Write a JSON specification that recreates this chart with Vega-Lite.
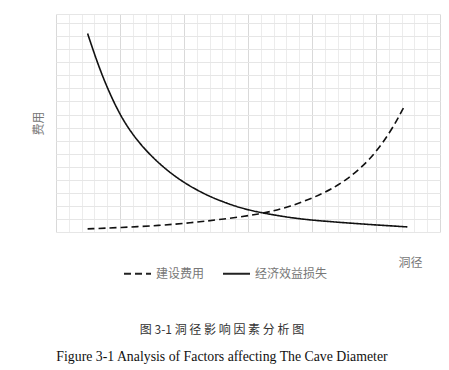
{
  "$schema": "https://vega.github.io/schema/vega-lite/v6.json",
  "width": 384,
  "height": 218,
  "autosize": {"type": "none"},
  "padding": {"left": 56, "top": 14, "right": 9, "bottom": 138},
  "background": "white",
  "config": {"view": {"stroke": null}},
  "title": {
    "text": "图 3-1  洞 径 影 响 因 素 分 析 图",
    "subtitle": "Figure 3-1 Analysis of Factors affecting The Cave Diameter",
    "orient": "bottom",
    "anchor": "middle",
    "frame": "group",
    "dx": -26,
    "offset": 45,
    "font": "Noto Sans CJK SC",
    "fontSize": 12,
    "fontWeight": "normal",
    "color": "#333",
    "subtitleFont": "Liberation Serif",
    "subtitleFontSize": 13.8,
    "subtitleColor": "#111",
    "subtitlePadding": 13
  },
  "data": {
    "values": [
      {"x": 2.47, "y": 15.2, "series": "经济效益损失"},
      {"x": 3.2, "y": 13.05, "series": "经济效益损失"},
      {"x": 4, "y": 11.03, "series": "经济效益损失"},
      {"x": 5, "y": 8.95, "series": "经济效益损失"},
      {"x": 6, "y": 7.44, "series": "经济效益损失"},
      {"x": 7, "y": 6.27, "series": "经济效益损失"},
      {"x": 8, "y": 5.3, "series": "经济效益损失"},
      {"x": 9, "y": 4.48, "series": "经济效益损失"},
      {"x": 10, "y": 3.79, "series": "经济效益损失"},
      {"x": 11, "y": 3.22, "series": "经济效益损失"},
      {"x": 12, "y": 2.73, "series": "经济效益损失"},
      {"x": 13, "y": 2.33, "series": "经济效益损失"},
      {"x": 14, "y": 1.98, "series": "经济效益损失"},
      {"x": 15, "y": 1.7, "series": "经济效益损失"},
      {"x": 16, "y": 1.49, "series": "经济效益损失"},
      {"x": 17, "y": 1.31, "series": "经济效益损失"},
      {"x": 18, "y": 1.15, "series": "经济效益损失"},
      {"x": 19, "y": 1.02, "series": "经济效益损失"},
      {"x": 20, "y": 0.91, "series": "经济效益损失"},
      {"x": 21, "y": 0.83, "series": "经济效益损失"},
      {"x": 22, "y": 0.75, "series": "经济效益损失"},
      {"x": 23, "y": 0.68, "series": "经济效益损失"},
      {"x": 24, "y": 0.61, "series": "经济效益损失"},
      {"x": 25, "y": 0.54, "series": "经济效益损失"},
      {"x": 26, "y": 0.48, "series": "经济效益损失"},
      {"x": 27.45, "y": 0.39, "series": "经济效益损失"},
      {"x": 2.47, "y": 0.24, "series": "建设费用"},
      {"x": 5.0, "y": 0.34, "series": "建设费用"},
      {"x": 8.12, "y": 0.5, "series": "建设费用"},
      {"x": 10.47, "y": 0.7, "series": "建设费用"},
      {"x": 12.81, "y": 0.95, "series": "建设费用"},
      {"x": 15.94, "y": 1.36, "series": "建设费用"},
      {"x": 18.28, "y": 1.92, "series": "建设费用"},
      {"x": 20.88, "y": 2.92, "series": "建设费用"},
      {"x": 22.71, "y": 3.97, "series": "建设费用"},
      {"x": 24.53, "y": 5.51, "series": "建设费用"},
      {"x": 26.09, "y": 7.56, "series": "建设费用"},
      {"x": 27.27, "y": 9.73, "series": "建设费用"}
    ]
  },
  "mark": {"type": "line", "interpolate": "basis", "color": "#111", "strokeWidth": 1.6},
  "encoding": {
    "x": {
      "field": "x",
      "type": "quantitative",
      "scale": {"domain": [0, 30], "nice": false, "zero": false},
      "axis": {
        "values": [0,1,2,3,4,5,6,7,8,9,10,11,12,13,14,15,16,17,18,19,20,21,22,23,24,25,26,27,28,29,30],
        "labels": false,
        "ticks": false,
        "domain": false,
        "grid": true,
        "gridColor": {"condition": {"test": "datum.value % 5 === 0", "value": "#d9d9d9"}, "value": "#ececec"},
        "gridWidth": 1,
        "title": "洞径",
        "titleFont": "Noto Sans CJK SC",
        "titleFontSize": 12,
        "titleFontWeight": "normal",
        "titleColor": "#777",
        "titleX": 354,
        "titleY": 30,
        "titleAlign": "center",
        "titleBaseline": "middle"
      }
    },
    "y": {
      "field": "y",
      "type": "quantitative",
      "scale": {"domain": [0, 16.7], "nice": false, "zero": false},
      "axis": {
        "values": [0,1,2,3,4,5,6,7,8,9,10,11,12,13,14,15,16,16.7],
        "labels": false,
        "ticks": false,
        "domain": false,
        "grid": true,
        "gridColor": "#e6e6e6",
        "gridWidth": 1,
        "title": "费用",
        "titleFont": "Noto Sans CJK SC",
        "titleFontSize": 12,
        "titleFontWeight": "normal",
        "titleColor": "#777",
        "titleX": -18,
        "titleY": 109,
        "titleAlign": "center",
        "titleBaseline": "middle",
        "titleAngle": -90
      }
    },
    "strokeDash": {
      "field": "series",
      "type": "nominal",
      "scale": {"domain": ["建设费用", "经济效益损失"], "range": [[7, 4], [1, 0]]},
      "legend": {
        "orient": "none",
        "legendX": 67,
        "legendY": 245,
        "direction": "horizontal",
        "title": null,
        "symbolType": "stroke",
        "symbolSize": 729,
        "symbolStrokeWidth": 2,
        "symbolStrokeColor": "#222",
        "labelFont": "Noto Sans CJK SC",
        "labelFontSize": 12,
        "labelColor": "#777",
        "labelOffset": 4,
        "columnPadding": 14
      }
    }
  }
}
